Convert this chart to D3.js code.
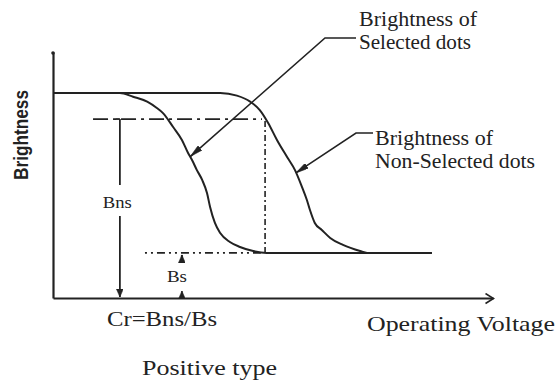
<!DOCTYPE html>
<html><head><meta charset="utf-8">
<script src="https://cdn.jsdelivr.net/npm/d3@7"></script>
<style>html,body{margin:0;padding:0;background:#fff;} svg{display:block;}</style>
</head><body>
<svg id="chart" width="560" height="385"></svg>
<script>
// Electro-optic response of a positive-type display:
// relative brightness against operating voltage (arbitrary units).
const selectedVoltage = [0, 1.52, 1.82, 2.14, 2.36, 2.50, 2.73, 2.93, 3.07, 3.16, 3.27, 3.39, 3.50, 3.57, 3.68, 3.80, 4.02, 4.25, 4.55, 4.86, 8.61];
const selectedBright  = [1, 1, 0.982, 0.958, 0.927, 0.902, 0.834, 0.771, 0.707, 0.673, 0.624, 0.576, 0.512, 0.444, 0.366, 0.317, 0.273, 0.249, 0.229, 0.22, 0.22];
const nonSelVoltage   = [0, 3.80, 4.18, 4.48, 4.70, 4.89, 5.09, 5.32, 5.50, 5.66, 5.77, 5.84, 5.95, 6.11, 6.30, 6.59, 6.98, 7.14, 8.61];
const nonSelBright    = [1, 1, 0.987, 0.958, 0.917, 0.854, 0.771, 0.688, 0.624, 0.541, 0.478, 0.429, 0.366, 0.332, 0.293, 0.259, 0.229, 0.22, 0.22];
// Brightness levels used for the contrast ratio
const levelNames  = ["Bns", "Bs"];
const levelValues = [0.873, 0.22];
// Text
const curveLabels = [["Brightness of", "Selected dots"], ["Brightness of", "Non-Selected dots"]];
const axisTitles  = ["Operating Voltage", "Brightness"];
const formulaText = "Cr=Bns/Bs";
const captionText = "Positive type";

const svg = d3.select("#chart");
const ink = "#222";
const serif = "'Liberation Serif','Times New Roman',serif";

const x = d3.scaleLinear().domain([0, 10]).range([53, 493]);
const y = d3.scaleLinear().domain([0, 1.2]).range([298, 52]);

const defs = svg.append("defs");
function marker(id, path, w, h, refX, refY, fill) {
  defs.append("marker").attr("id", id)
    .attr("viewBox", `0 0 ${w} ${h}`).attr("markerWidth", w).attr("markerHeight", h)
    .attr("refX", refX).attr("refY", refY).attr("orient", "auto").attr("markerUnits", "userSpaceOnUse")
    .append("path").attr("d", path)
    .attr("fill", fill ? ink : "none").attr("stroke", ink).attr("stroke-width", fill ? 0.5 : 1.6);
}
marker("open", "M1,1 L9,6 L1,11", 10, 12, 9, 6, false);
marker("solid", "M0,0 L8,3.5 L0,7 Z", 8, 7, 8, 3.5, true);
marker("blob", "M0,0 L13,3 L0,6 Z", 13, 6, 13, 3, true);

// Axes (no ticks), drawn as bare domain lines
const xAxis = svg.append("g").attr("transform", `translate(0,${y(0)})`)
  .call(d3.axisBottom(x).ticks(0).tickSizeOuter(0));
xAxis.select(".domain").attr("stroke", ink).attr("stroke-width", 2.2).attr("marker-end", "url(#open)");
const yAxis = svg.append("g").attr("transform", `translate(${x(0)},0)`)
  .call(d3.axisLeft(y).ticks(0).tickSizeOuter(0));
yAxis.select(".domain").attr("stroke", ink).attr("stroke-width", 2.2);
svg.append("circle").attr("cx", x(0)).attr("cy", y(1.2) + 1).attr("r", 1.8).attr("fill", ink);

// Reference levels
const bns = levelValues[0], bs = levelValues[1];
const vKnee = selectedVoltage[selectedVoltage.length - 2];
svg.append("line")
  .attr("x1", x(0.91)).attr("x2", x(4.75)).attr("y1", y(bns)).attr("y2", y(bns))
  .attr("stroke", ink).attr("stroke-width", 1.8).attr("stroke-dasharray", "15,5,3,5");
svg.append("line")
  .attr("x1", x(2.09)).attr("x2", x(vKnee) - 6).attr("y1", y(bs)).attr("y2", y(bs))
  .attr("stroke", ink).attr("stroke-width", 1.6).attr("stroke-dasharray", "2,4,2,4,8,4");
svg.append("line")
  .attr("x1", x(4.82)).attr("x2", x(4.82)).attr("y1", y(bns) + 2).attr("y2", y(bs))
  .attr("stroke", ink).attr("stroke-width", 1.6).attr("stroke-dasharray", "6,3,2,3");

// Curves
const line = d3.line().x(d => x(d[0])).y(d => y(d[1])).curve(d3.curveMonotoneX);
const selPts = selectedVoltage.map((v, i) => [v, selectedBright[i]]);
const nonPts = nonSelVoltage.map((v, i) => [v, nonSelBright[i]]);
[selPts, nonPts].forEach(pts => {
  svg.append("path").attr("d", line(pts)).attr("fill", "none")
    .attr("stroke", ink).attr("stroke-width", 2).attr("stroke-linejoin", "round");
});

// Bns measurement: from the Bns level down to the voltage axis
const bnsX = x(1.52);
svg.append("line").attr("x1", bnsX).attr("x2", bnsX).attr("y1", y(bns)).attr("y2", 185)
  .attr("stroke", ink).attr("stroke-width", 1.8);
svg.append("line").attr("x1", bnsX - 4).attr("x2", bnsX).attr("y1", y(bns)).attr("y2", y(bns))
  .attr("stroke", ink).attr("stroke-width", 1.8);
svg.append("line").attr("x1", bnsX).attr("x2", bnsX).attr("y1", 216).attr("y2", y(0) - 1)
  .attr("stroke", ink).attr("stroke-width", 1.8).attr("marker-end", "url(#solid)");
svg.append("text").attr("x", bnsX - 17).attr("y", 208).text(levelNames[0])
  .attr("font-family", serif).attr("font-size", 16).attr("textLength", 29)
  .attr("lengthAdjust", "spacingAndGlyphs").attr("fill", ink);

// Bs measurement: short arrows pointing up to the Bs level and from the axis
const bsX = x(2.93);
svg.append("line").attr("x1", bsX).attr("x2", bsX).attr("y1", y(bs) + 10).attr("y2", y(bs) + 2)
  .attr("stroke", ink).attr("stroke-width", 2).attr("marker-end", "url(#solid)");
svg.append("line").attr("x1", bsX).attr("x2", bsX).attr("y1", y(0) - 1).attr("y2", y(0) - 7)
  .attr("stroke", ink).attr("stroke-width", 1.4).attr("marker-end", "url(#solid)");
svg.append("text").attr("x", bsX - 15).attr("y", 282).text(levelNames[1])
  .attr("font-family", serif).attr("font-size", 16).attr("textLength", 20)
  .attr("lengthAdjust", "spacingAndGlyphs").attr("fill", ink);

// Leader lines to the curve labels
function leader(tip, elbow, end) {
  svg.append("path").attr("d", d3.line()([end, elbow, tip]))
    .attr("fill", "none").attr("stroke", ink).attr("stroke-width", 1.6)
    .attr("marker-end", "url(#blob)");
}
leader([x(3.12), y(0.69)], [325, 38], [356, 38]);
leader([x(5.52), y(0.61)], [356, 133], [373, 133]);

function label(lines, x0, y0, widths) {
  lines.forEach((t, i) => {
    svg.append("text").attr("x", x0).attr("y", y0 + i * 23).text(t)
      .attr("font-family", serif).attr("font-size", 21)
      .attr("textLength", widths[i]).attr("lengthAdjust", "spacingAndGlyphs").attr("fill", ink);
  });
}
label(curveLabels[0], 359, 26, [118, 112]);
label(curveLabels[1], 375, 145, [118, 160]);

// Axis titles, formula and caption
svg.append("text").attr("x", 367).attr("y", 331).text(axisTitles[0])
  .attr("font-family", serif).attr("font-size", 22).attr("textLength", 188)
  .attr("lengthAdjust", "spacingAndGlyphs").attr("fill", ink);
svg.append("text").attr("transform", "translate(28,135) rotate(-90)")
  .attr("text-anchor", "middle").text(axisTitles[1])
  .attr("font-family", "'Liberation Sans',Arial,sans-serif").attr("font-size", 21)
  .attr("font-weight", "bold")
  .attr("textLength", 90).attr("lengthAdjust", "spacingAndGlyphs").attr("fill", ink);
svg.append("text").attr("x", 107).attr("y", 326).text(formulaText)
  .attr("font-family", serif).attr("font-size", 21).attr("textLength", 110)
  .attr("lengthAdjust", "spacingAndGlyphs").attr("fill", ink);
svg.append("text").attr("x", 142).attr("y", 375).text(captionText)
  .attr("font-family", serif).attr("font-size", 22).attr("textLength", 135)
  .attr("lengthAdjust", "spacingAndGlyphs").attr("fill", ink);
</script>
</body></html>
